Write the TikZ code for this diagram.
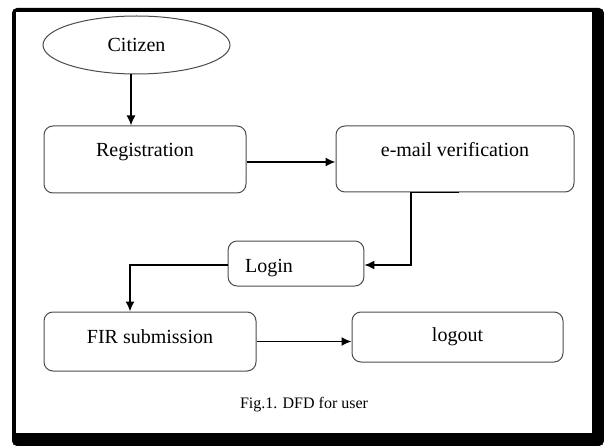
\documentclass[tikz,border=0pt]{standalone}
\usepackage{fontspec}
\setmainfont{Liberation Serif}
\usetikzlibrary{shapes.geometric,arrows.meta,positioning,calc}

\tikzset{
    proc/.style={draw=black!70, line width=1pt, rounded corners=9pt, inner sep=0pt,
        font=\fontsize{20}{24}\selectfont},
    entity/.style={draw=black!70, line width=1pt, ellipse, inner sep=0pt,
        font=\fontsize{20}{24}\selectfont},
    flow/.style={line width=1.6pt, -{Latex[length=10pt,width=9pt]}}
}

\begin{document}
\begin{tikzpicture}[x=1pt, y=-1pt]
    \useasboundingbox (0,0) rectangle (604,446);

    % frame with shadow
    \fill[black, rounded corners=5pt] (12,8) rectangle (604,446);
    \fill[white] (16,12) rectangle (592,433);

    % external entity
    \node[entity, minimum width=187pt, minimum height=58pt] (cit) at (136.5,45) {Citizen};

    % processes
    \node[proc, minimum width=202pt, minimum height=67pt, text height=14pt, text depth=19pt]
        (reg) at (145,159.5) {Registration};
    \node[proc, minimum width=238pt, minimum height=66pt, text height=14pt, text depth=18pt]
        (mail) at (455,159) {e-mail verification};
    \node[proc, minimum height=45pt, inner xsep=17pt, text height=20pt, text depth=3pt]
        (login) at (296,263.5) {Login\kern54pt};
    \node[proc, minimum width=212pt, minimum height=59pt, text height=14pt, text depth=11pt]
        (fir) at (150,341.5) {FIR submission};
    \node[proc, minimum width=211pt, minimum height=50pt] (out) at (457.5,337) {logout};

    % flows
    \draw[flow] ([xshift=-5.5pt]cit.south) -- ([xshift=-5.5pt]cit.south |- reg.north);
    \draw[flow] ([yshift=-2.5pt]reg.east) -- ([yshift=-2.5pt]reg.east -| mail.west);
    \draw[flow] ([xshift=4pt]mail.south) -- ([xshift=-44pt]mail.south)
        |- ([yshift=-1.5pt]login.east);
    \draw[flow] ([yshift=-1.5pt]login.west) -| ([xshift=-20pt]fir.north);
    \draw[flow] (fir.east) -- (fir.east -| out.west);

    % caption
    \node[font=\fontsize{16}{19}\selectfont] (cap) at (304,405) {Fig.1. DFD for user};
\end{tikzpicture}
\end{document}
